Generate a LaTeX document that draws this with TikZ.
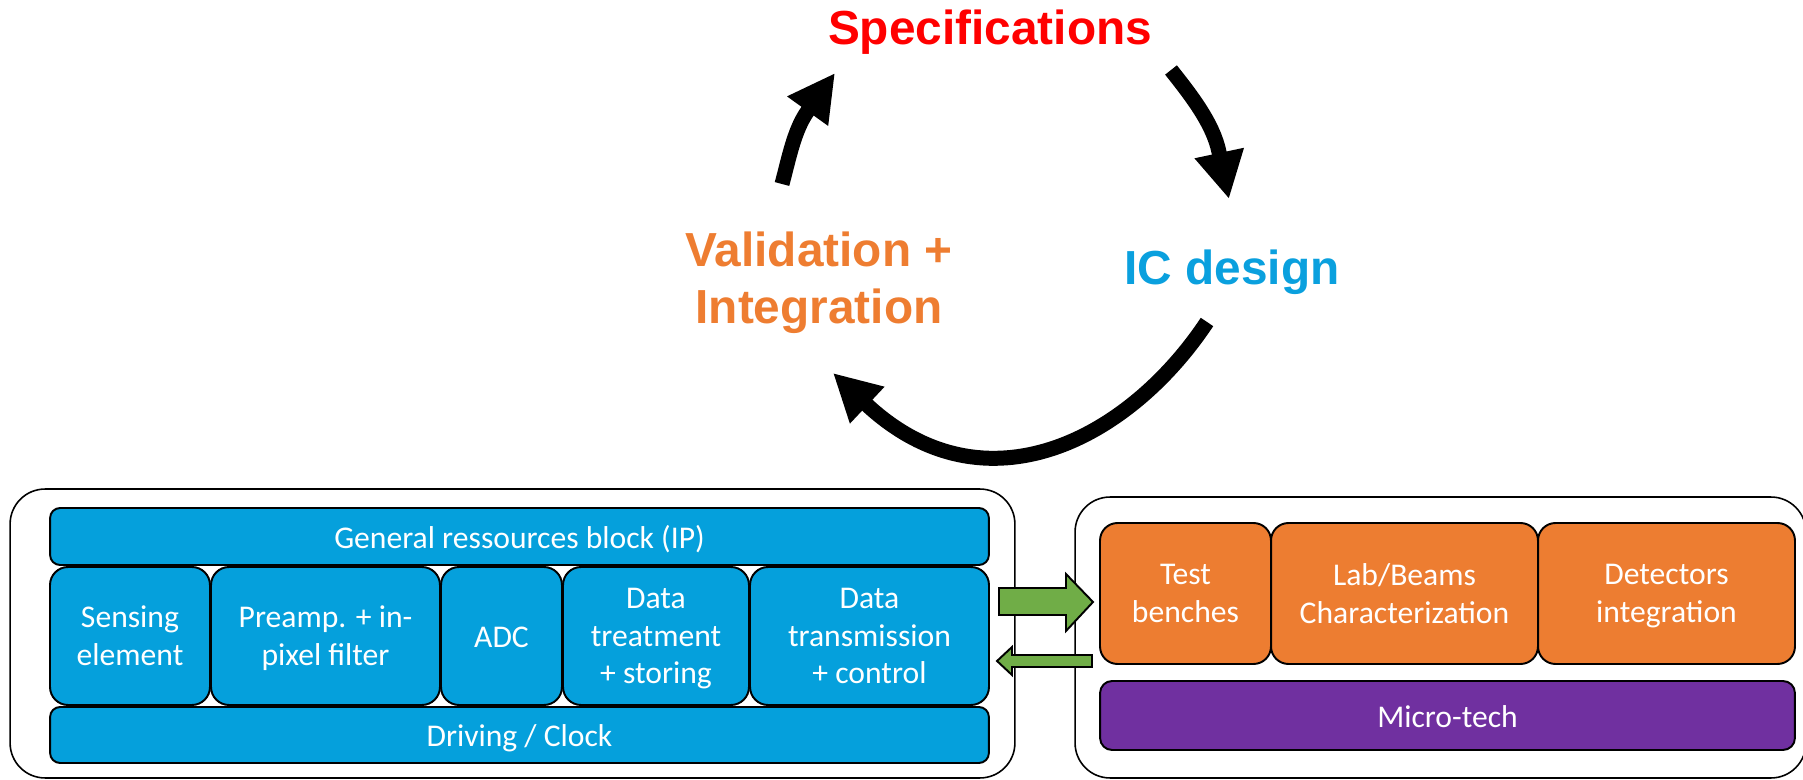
\documentclass[tikz,border=0pt]{standalone}
\usepackage{fontspec}
\setmainfont{Carlito}
\newfontfamily\arialfont{Liberation Sans}
\usetikzlibrary{arrows.meta}
\definecolor{boxblue}{RGB}{5,160,220}
\definecolor{titleblue}{RGB}{10,160,222}
\definecolor{boxorange}{HTML}{ED7D31}
\definecolor{titleorange}{HTML}{EE7D31}
\definecolor{boxpurple}{HTML}{7030A0}
\definecolor{arrowgreen}{HTML}{70AD47}
\begin{document}
\begin{tikzpicture}[x=0.02cm,y=-0.02cm,
  outer/.style={draw=black, line width=0.9pt, rounded corners=0.7cm, fill=white, inner sep=0pt},
  box/.style={draw=black, line width=1.1pt, text=white, align=center, inner sep=0pt,
    font=\fontsize{18}{21.5}\selectfont},
  oneline/.style={text height=17pt, text depth=3.6pt},
  multiline/.style={text depth=-1.6pt},
  bluebox/.style={box, fill=boxblue, rounded corners=0.36cm, minimum height=2.76cm},
  bar/.style={box, oneline, fill=boxblue, rounded corners=0.2cm, minimum width=18.78cm},
  orangebox/.style={box, multiline, fill=boxorange, rounded corners=0.35cm, minimum height=2.82cm},
  title/.style={inner sep=0pt, align=center, font=\arialfont\bfseries\fontsize{27.2}{32.3}\selectfont},
  cyclearrow/.style={line width=0.3cm, -{Triangle[length=0.94cm,width=0.94cm]}},
  greenarrow/.style={draw=black, line width=1.1pt, fill=arrowgreen, line join=miter}
]
\useasboundingbox (0,0) rectangle (1803,780);

% titles
\node[title, text=red, anchor=base] (spec) at (990,45) {Specifications};
\node[title, text=titleblue, anchor=base] (ic) at (1232,285) {IC design};
\node[title, text=titleorange, anchor=north] (val) at (819,232) {Validation +\\Integration};

% cycle arrows (curved shaft, then a straight piece as long as the head)
\coordinate (a1s) at (782,184);
\coordinate (a1b) at (807,112);
\coordinate (a1e) at (835,73);
\coordinate (a2s) at (1171,70);
\coordinate (a2b) at (1219,152);
\coordinate (a2e) at (1229,199);
\coordinate (a3s) at (1207,322);
\coordinate (a3b) at (866,404);
\coordinate (a3e) at (833,373);
\draw[cyclearrow] (a1s) .. controls (789,158) and (794,131) .. (a1b) -- (a1e);
\draw[cyclearrow] (a2s) .. controls (1190,94) and (1213,123) .. (a2b) -- (a2e);
\draw[cyclearrow] (a3s) .. controls (1130,438) and (986,516) .. (a3b) -- (a3e);

% left group
\node[outer, minimum width=20.1cm, minimum height=5.78cm] (outerL) at (512.5,633.5) {};
\node[bar, minimum height=1.14cm] (gen) at (519.5,536.5) {General ressources block (IP)};
\node[bluebox, multiline, minimum width=3.2cm] (sens) at (130,636) {Sensing\\element};
\node[bluebox, multiline, minimum width=4.58cm] (pre) at (325.5,636) {Preamp. + in-\\pixel filter};
\node[bluebox, oneline, minimum width=2.42cm] (adc) at (501.5,636) {ADC};
\node[bluebox, multiline, minimum width=3.72cm] (dtr) at (656,636) {Data\\treatment\\+ storing};
\node[bluebox, multiline, minimum width=4.78cm] (dtx) at (869.5,636) {Data\\transmission\\+ control};
\node[bar, minimum height=1.12cm] (drv) at (519.5,735) {Driving / Clock};

% right group
\node[outer, minimum width=14.62cm, minimum height=5.62cm] (outerR) at (1440.5,637.5) {};
\node[orangebox, minimum width=3.42cm] (tb) at (1185.5,593.5) {Test\\benches};
\node[orangebox, minimum width=5.34cm] (lab) at (1404.5,593.5) {Lab/Beams\\Characterization};
\node[orangebox, minimum width=5.14cm] (det) at (1666.5,593.5) {Detectors\\integration};
\node[box, oneline, fill=boxpurple, rounded corners=0.24cm, minimum width=13.9cm, minimum height=1.38cm] (mt) at (1447.5,715.5) {Micro-tech};

% green arrows between groups
\draw[greenarrow] (999,588) -- (1066,588) -- (1066,574) -- (1093,602) -- (1066,631) -- (1066,615) -- (999,615) -- cycle;
\draw[greenarrow] (997,661) -- (1012,647) -- (1012,655) -- (1092,655) -- (1092,667) -- (1012,667) -- (1012,675) -- cycle;
\end{tikzpicture}
\end{document}
